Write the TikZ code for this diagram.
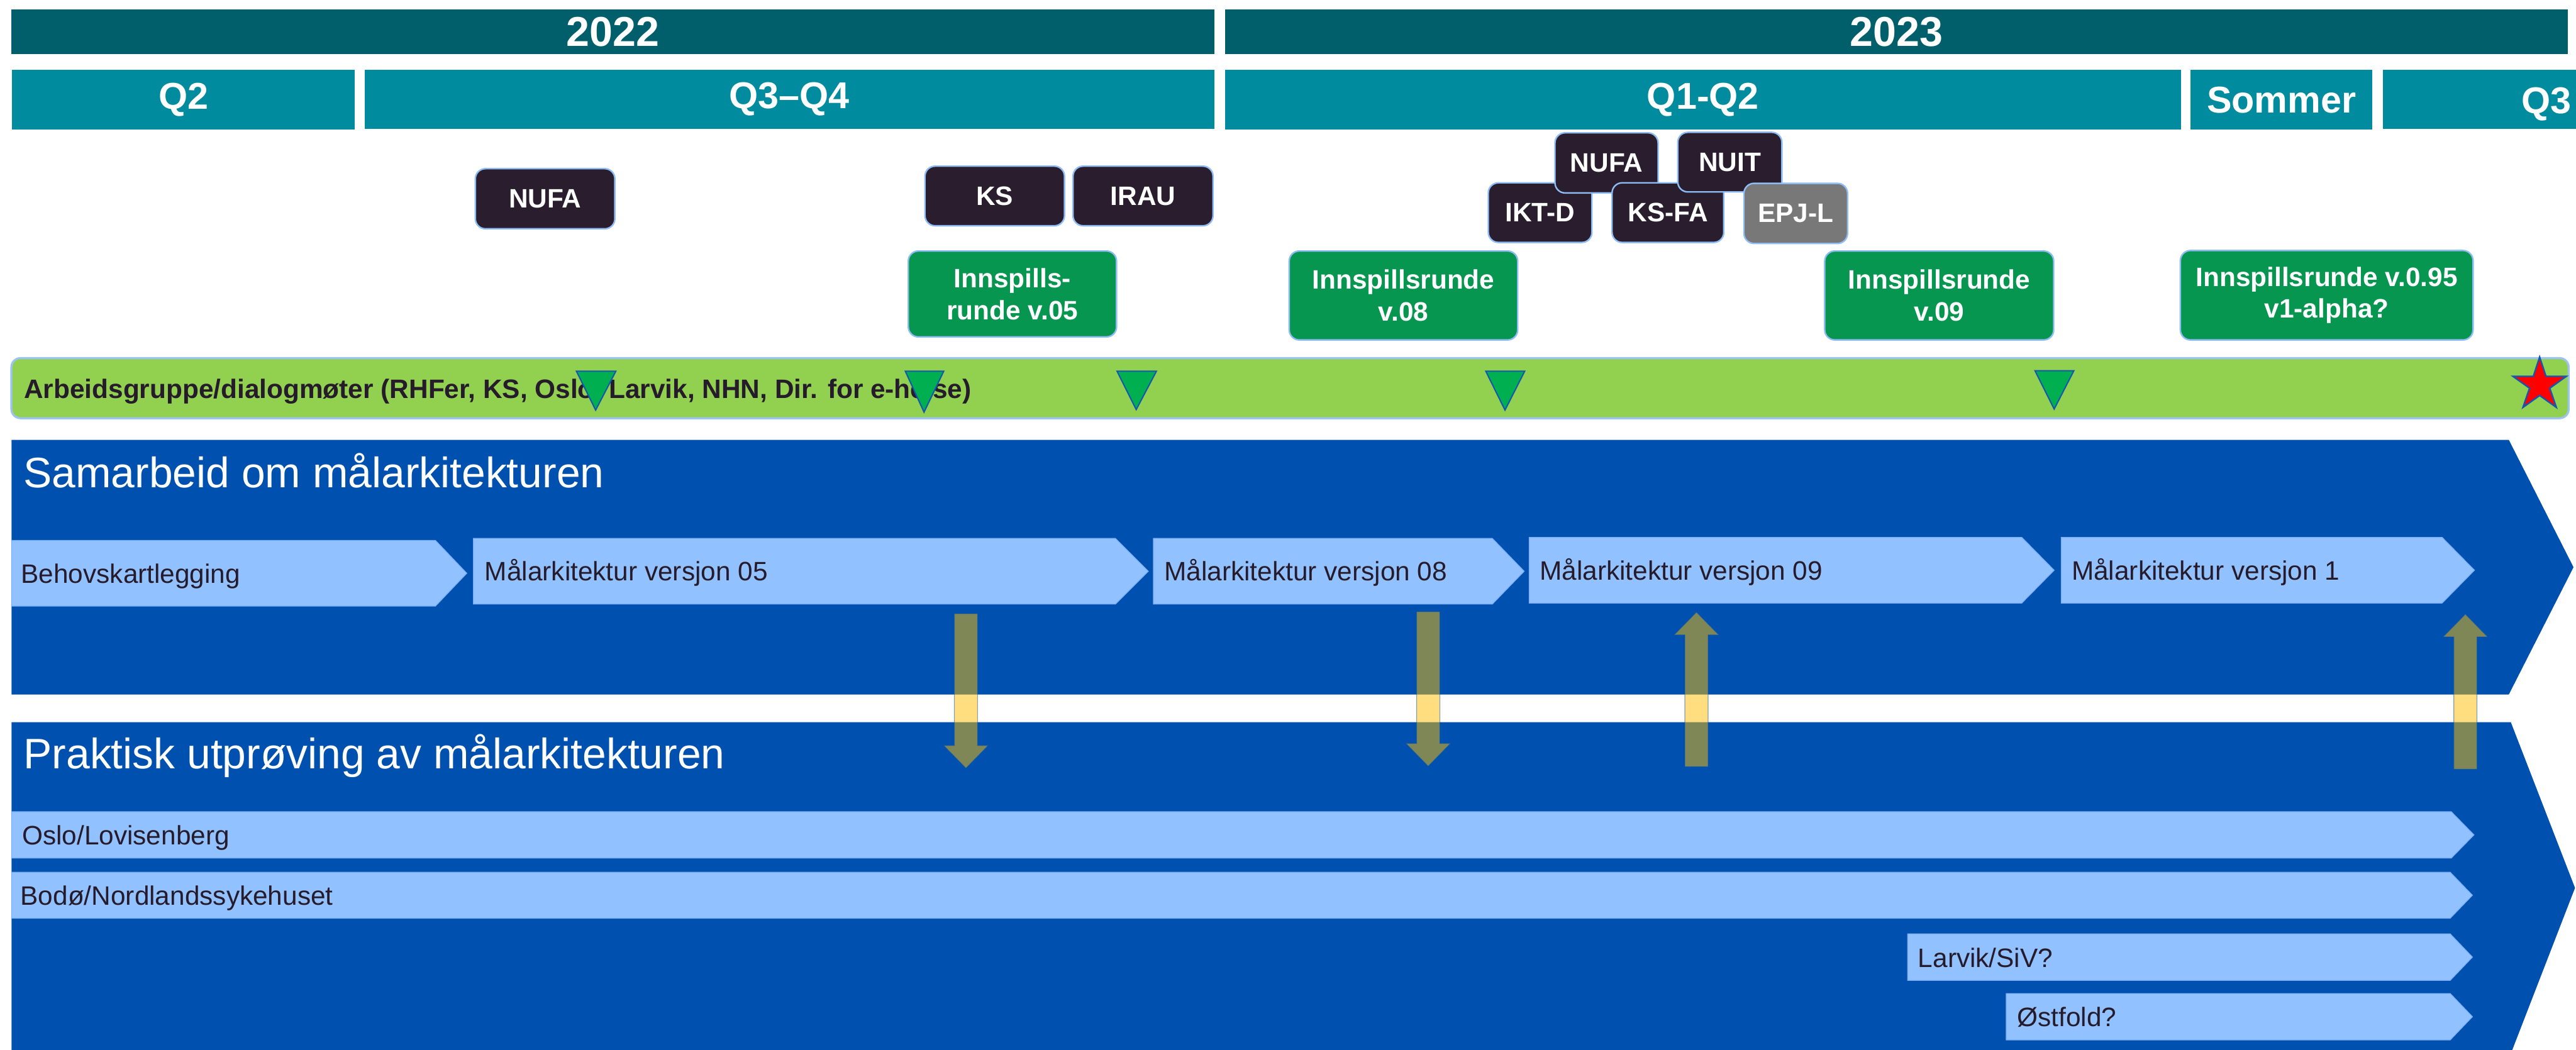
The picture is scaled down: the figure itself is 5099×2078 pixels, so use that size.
\documentclass[tikz,border=0pt]{standalone}
\usepackage{fontspec}
\setmainfont{Liberation Sans}
\usetikzlibrary{calc}
\definecolor{yeardark}{HTML}{005F6B}
\definecolor{qteal}{HTML}{008C9E}
\definecolor{darkbox}{HTML}{291D2E}
\definecolor{boxedge}{HTML}{8FBCF5}
\definecolor{greenbox}{HTML}{07964F}
\definecolor{graybox}{HTML}{787878}
\definecolor{barGreen}{HTML}{92D050}
\definecolor{barEdge}{HTML}{9DC3F2}
\definecolor{triGreen}{HTML}{00B050}
\definecolor{triEdge}{HTML}{1456B0}
\definecolor{bigBlue}{HTML}{0051AF}
\definecolor{lightBlue}{HTML}{92C1FF}
\definecolor{lightEdge}{HTML}{7BAEF5}
\definecolor{darkText}{HTML}{251B2B}
\definecolor{arrowGold}{HTML}{FFBE00}
\definecolor{starRed}{HTML}{FF0000}
\newcommand{\myarrdown}[2]{\fill[goldarrow] ($(#1)+(-23,0)$) -- ($(#1)+(23,0)$) -- ($(#2)+(23,-45)$) -- ($(#2)+(44,-45)$) -- (#2) -- ($(#2)+(-44,-45)$) -- ($(#2)+(-23,-45)$) -- cycle;}
\newcommand{\myarrup}[2]{\fill[goldarrow] ($(#1)+(-23,0)$) -- ($(#1)+(23,0)$) -- ($(#2)+(23,45)$) -- ($(#2)+(44,45)$) -- (#2) -- ($(#2)+(-44,45)$) -- ($(#2)+(-23,45)$) -- cycle;}
\begin{document}
\begin{tikzpicture}[x=0.01cm,y=-0.01cm,
  yearbar/.style={fill=yeardark, text=white, font=\bfseries\fontsize{23.5}{28}\selectfont, inner sep=0pt, minimum height=0.88cm},
  qbar/.style={fill=qteal, text=white, font=\bfseries\fontsize{21}{25}\selectfont, inner sep=0pt, minimum height=1.18cm},
  orgbox/.style={rounded corners=0.2cm, draw=boxedge, line width=0.03cm, fill=darkbox, text=white, font=\bfseries\fontsize{15}{18}\selectfont, inner sep=0pt, align=center},
  roundbox/.style={orgbox, fill=greenbox},
  graybx/.style={orgbox, fill=graybox},
  greenbar/.style={rounded corners=0.18cm, fill=barGreen, draw=barEdge, line width=0.04cm, inner sep=0pt},
  bartext/.style={text=darkText, font=\bfseries\fontsize{15}{18}\selectfont, inner sep=0pt, anchor=base west},
  tri/.style={fill=triGreen, draw=triEdge, line width=0.025cm, line join=miter},
  bigchev/.style={fill=bigBlue},
  lightchev/.style={fill=lightBlue, draw=lightEdge, line width=0.015cm},
  chevtext/.style={text=darkText, font=\fontsize{15}{18}\selectfont, inner sep=0pt, anchor=base west},
  titletext/.style={text=white, font=\fontsize{24}{29}\selectfont, inner sep=0pt, anchor=base west},
  goldarrow/.style={fill=arrowGold, fill opacity=0.5, draw=bigBlue, draw opacity=0.5, line width=0.015cm}
]
\useasboundingbox (0,0) rectangle (5099,2078);
\clip (0,0) rectangle (5099,2078);
\fill[white] (0,0) rectangle (5099,2078);

% year bars
\node[yearbar, minimum width=23.80cm] (y2022) at (1213,63) {2022};
\node[yearbar, minimum width=26.56cm] (y2023) at (3754,63) {2023};

% quarter bars
\node[qbar, minimum width=6.78cm] (q2) at (363,197.5) {Q2};
\node[qbar, minimum width=16.81cm, minimum height=1.17cm] (q34) at (1562.5,196.5) {Q3–Q4};
\node[qbar, minimum width=18.90cm] (q12) at (3371,197.5) {Q1-Q2};
\node[qbar, minimum width=3.60cm] (som) at (4516,197.5) {Sommer};
\node[qbar, minimum width=4.10cm, minimum height=1.17cm] (q3) at (4922,196.5) {};
\node[text=white, font=\bfseries\fontsize{21}{25}\selectfont, inner sep=0pt, anchor=base west] (q3t) at (4990,225) {Q3};

% organisation boxes
\node[orgbox, minimum width=2.76cm, minimum height=1.19cm] (nufa1) at (1079,393.5) {NUFA};
\node[orgbox, minimum width=2.76cm, minimum height=1.18cm] (ks) at (1969,388) {KS};
\node[orgbox, minimum width=2.77cm, minimum height=1.18cm] (irau) at (2262.5,388) {IRAU};
\node[orgbox, minimum width=2.05cm, minimum height=1.18cm] (iktd) at (3048.5,421) {IKT-D};
\node[orgbox, minimum width=2.04cm, minimum height=1.19cm] (nufa2) at (3180,322.5) {NUFA};
\node[orgbox, minimum width=2.21cm, minimum height=1.18cm] (ksfa) at (3301.5,421) {KS-FA};
\node[orgbox, minimum width=2.06cm, minimum height=1.18cm] (nuit) at (3424,321) {NUIT};
\node[graybx, minimum width=2.05cm, minimum height=1.19cm] (epjl) at (3554.5,422.5) {EPJ-L};

% input rounds
\node[roundbox, minimum width=4.12cm, minimum height=1.70cm] (r05) at (2004,582) {Innspills-\\runde v.05};
\node[roundbox, minimum width=4.52cm, minimum height=1.76cm] (r08) at (2778,585) {Innspillsrunde\\v.08};
\node[roundbox, minimum width=4.53cm, minimum height=1.76cm] (r09) at (3838.5,585) {Innspillsrunde\\v.09};
\node[roundbox, minimum width=5.79cm, minimum height=1.77cm] (r095) at (4605.5,584.5) {Innspillsrunde v.0.95\\v1-alpha?};

% working group bar
\node[greenbar, minimum width=50.59cm, minimum height=1.19cm] (wg) at (2553.5,768.5) {};
\node[bartext] (wgtext) at (47,788) {Arbeidsgruppe/dialogmøter (RHFer, KS, Oslo, Larvik, NHN, Dir. for e-helse)};
\filldraw[tri] (1141,735) -- (1219,735) -- (1179,812) -- cycle;
\filldraw[tri] (1792,735) -- (1868,735) -- (1829,816) -- cycle;
\filldraw[tri] (2211,735) -- (2289,735) -- (2249,811) -- cycle;
\filldraw[tri] (2941,735) -- (3018,735) -- (2979,812) -- cycle;
\filldraw[tri] (4028,734) -- (4105,734) -- (4066,810) -- cycle;
\filldraw[fill=starRed, draw=triEdge, line width=0.03cm, line join=miter]
  (5027,707) -- (5039.5,745) -- (5080,745) -- (5047,768.5) -- (5060,806.5) -- (5027,783)
  -- (4994,806.5) -- (5007,768.5) -- (4974,745) -- (5014.5,745) -- cycle;

% big chevrons
\fill[bigchev] (23,871) -- (4966,871) -- (5094,1123) -- (4966,1375) -- (23,1375) -- cycle;
\fill[bigchev] (23,1430) -- (4970,1430) -- (5097,1758) -- (4970,2086) -- (23,2086) -- cycle;
\node[titletext] (t1) at (46,965) {Samarbeid om målarkitekturen};
\node[titletext] (t2) at (46,1522) {Praktisk utprøving av målarkitekturen};

% architecture versions
\filldraw[lightchev] (23,1070) -- (862,1070) -- (924,1135) -- (862,1200) -- (23,1200) -- cycle;
\filldraw[lightchev] (937,1066) -- (2208,1066) -- (2273,1131) -- (2208,1196) -- (937,1196) -- cycle;
\filldraw[lightchev] (2283,1066) -- (2954,1066) -- (3017,1131) -- (2954,1196) -- (2283,1196) -- cycle;
\filldraw[lightchev] (3027,1064) -- (4002,1064) -- (4066,1129) -- (4002,1194) -- (3027,1194) -- cycle;
\filldraw[lightchev] (4080,1064) -- (4834,1064) -- (4898,1129) -- (4834,1194) -- (4080,1194) -- cycle;
\node[chevtext] (behov) at (41,1155) {Behovskartlegging};
\node[chevtext] (v05) at (959,1150) {Målarkitektur versjon 05};
\node[chevtext] (v08) at (2304,1150) {Målarkitektur versjon 08};
\node[chevtext] (v09) at (3047,1148) {Målarkitektur versjon 09};
\node[chevtext] (v1) at (4100,1148) {Målarkitektur versjon 1};

% pilot sites
\filldraw[lightchev] (23,1607) -- (4852,1607) -- (4897,1653) -- (4852,1699) -- (23,1699) -- cycle;
\filldraw[lightchev] (23,1727) -- (4850,1727) -- (4894,1772.5) -- (4850,1818) -- (23,1818) -- cycle;
\filldraw[lightchev] (3776,1849) -- (4850,1849) -- (4894,1895) -- (4850,1941) -- (3776,1941) -- cycle;
\filldraw[lightchev] (3971,1967) -- (4850,1967) -- (4894,2013) -- (4850,2059) -- (3971,2059) -- cycle;
\node[chevtext] (oslo) at (43,1673) {Oslo/Lovisenberg};
\node[chevtext] (bodo) at (40,1792) {Bodø/Nordlandssykehuset};
\node[chevtext] (larvik) at (3796,1915) {Larvik/SiV?};
\node[chevtext] (ostf) at (3992,2032) {Østfold?};

% vertical arrows
\coordinate (a1s) at (1912,1215); \coordinate (a1e) at (1912,1521);
\coordinate (a2s) at (2827,1211); \coordinate (a2e) at (2827,1517);
\coordinate (a3s) at (3358,1518); \coordinate (a3e) at (3358,1212);
\coordinate (a4s) at (4880,1523); \coordinate (a4e) at (4880,1216);
\myarrdown{a1s}{a1e}
\myarrdown{a2s}{a2e}
\myarrup{a3s}{a3e}
\myarrup{a4s}{a4e}
\end{tikzpicture}
\end{document}
